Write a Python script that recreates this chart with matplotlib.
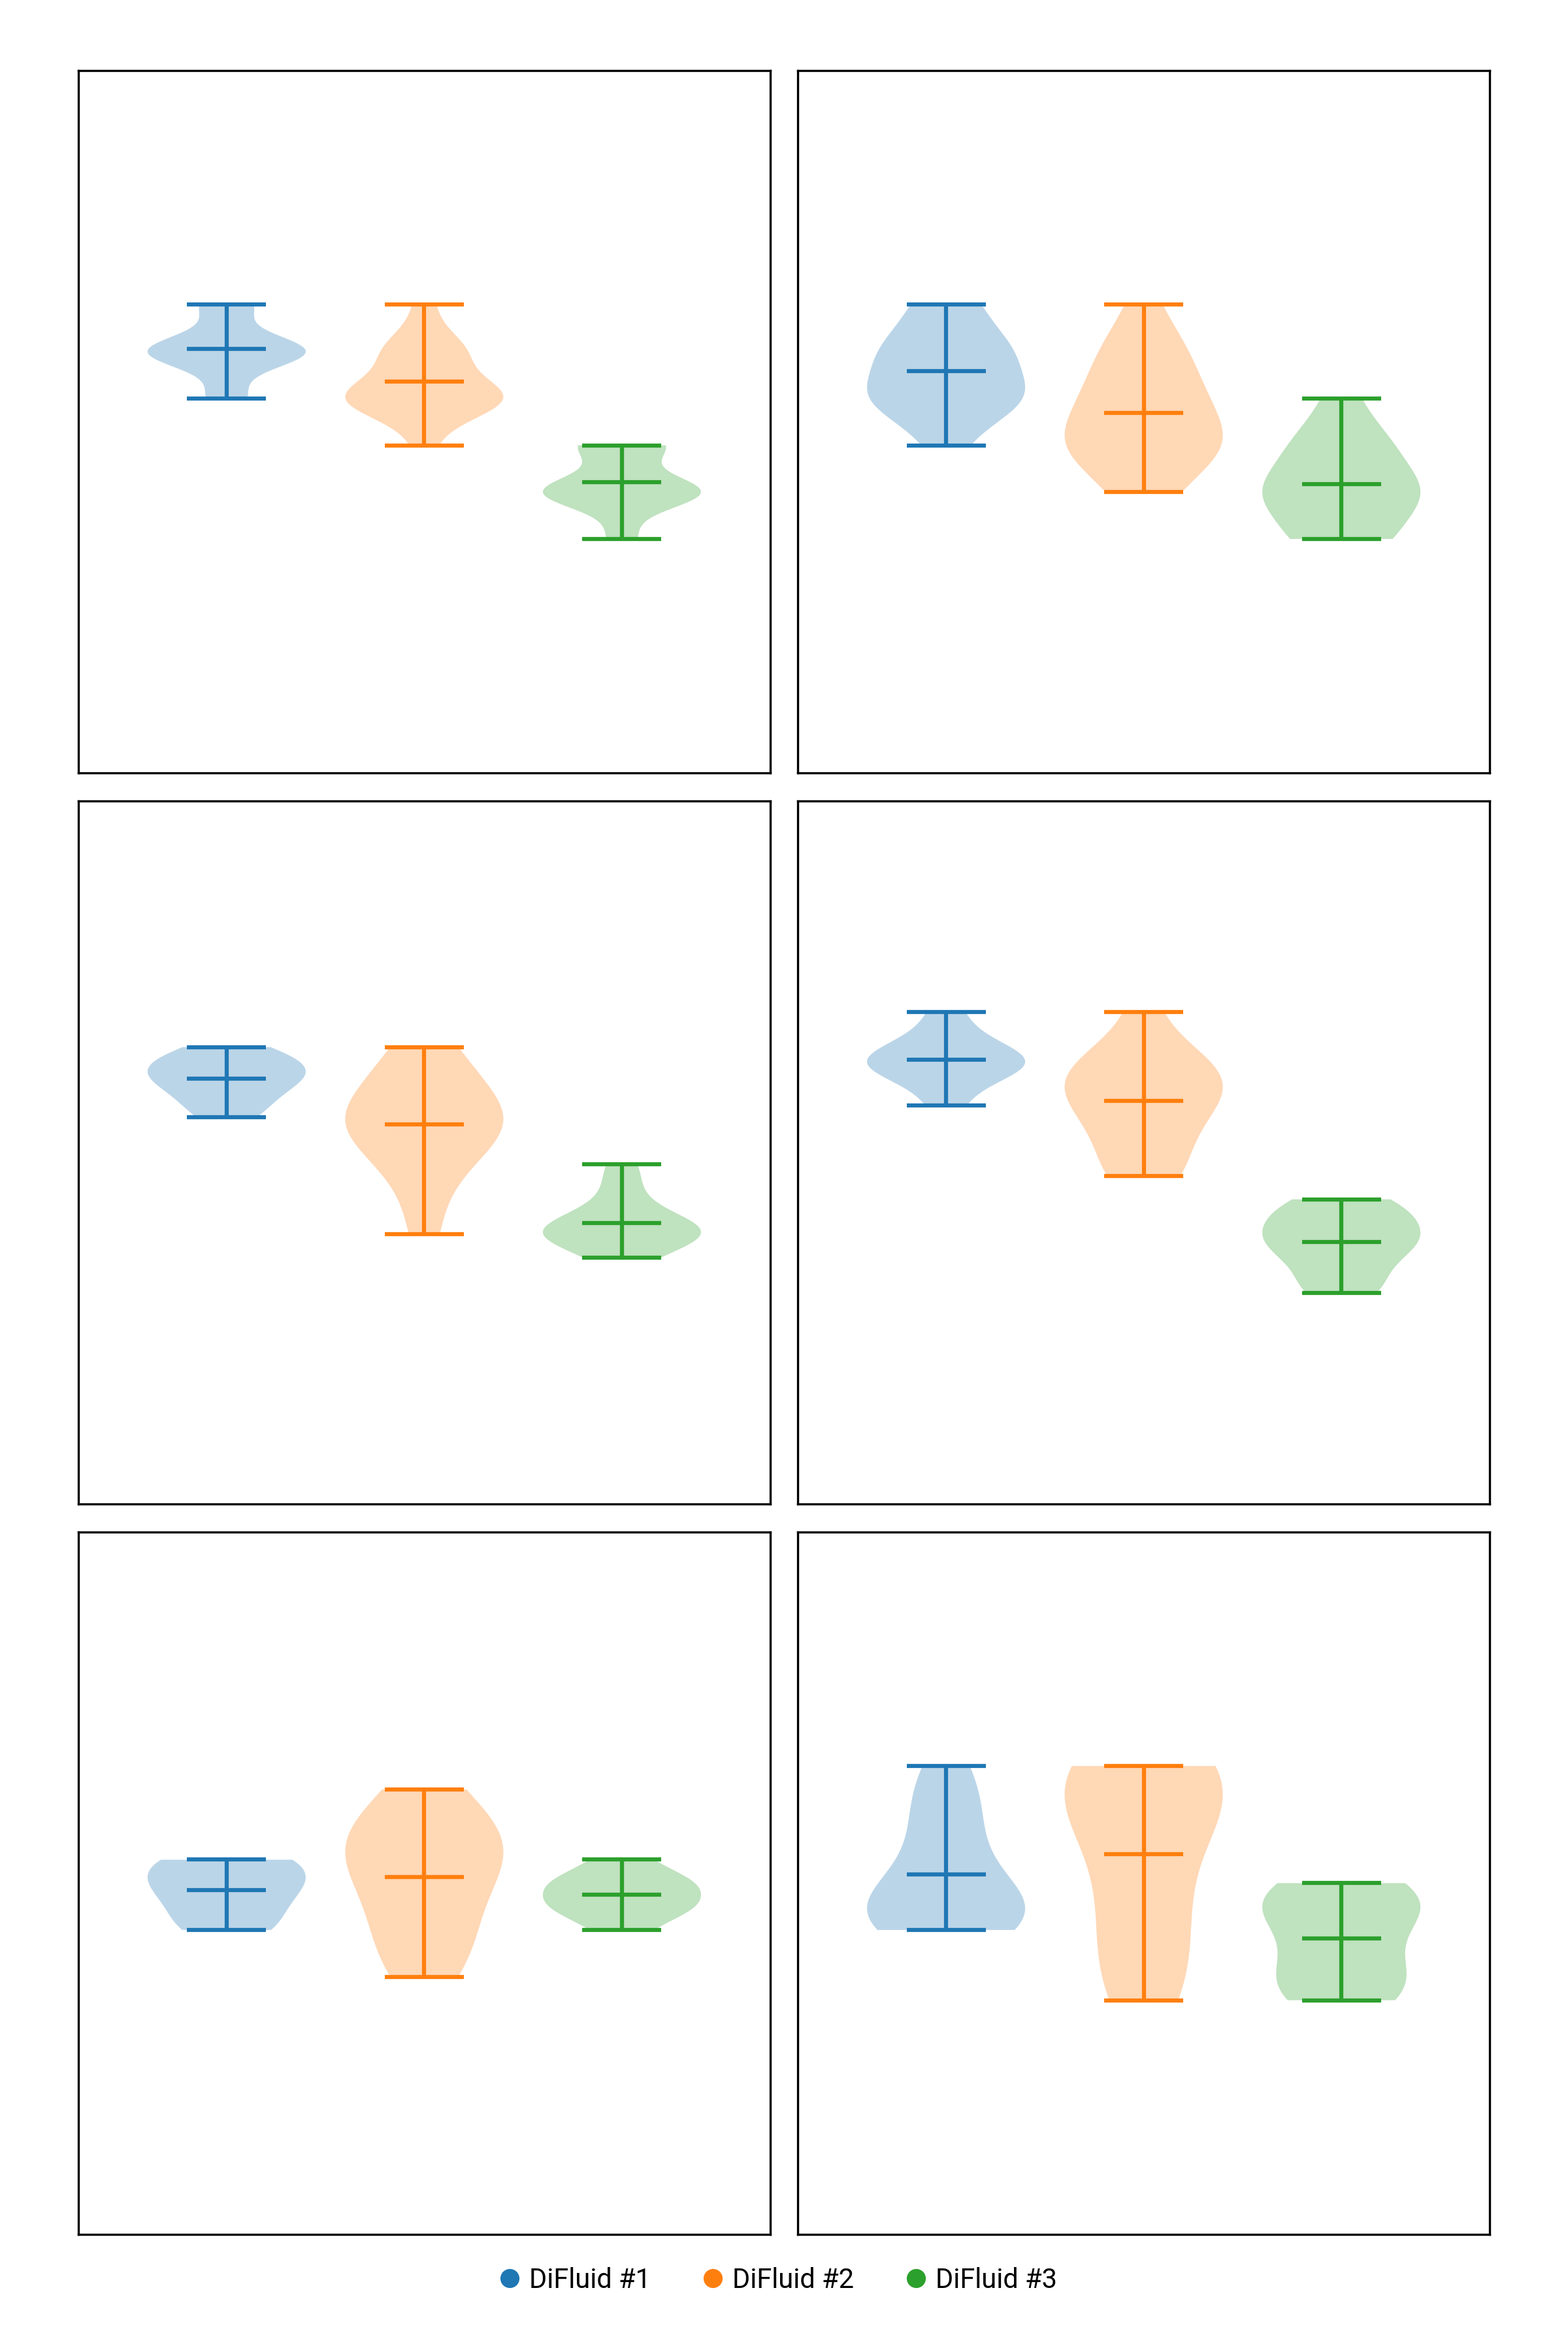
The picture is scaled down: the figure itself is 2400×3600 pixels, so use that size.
import matplotlib.pyplot as plt
from matplotlib.lines import Line2D

plt.rcParams['font.family'] = ['Roboto', 'DejaVu Sans']

labels = ['DiFluid #1', 'DiFluid #2', 'DiFluid #3']
colors = ['#1f77b4', '#ff7f0e', '#2ca02c']

# row 1
p1_d1 = [1.45, 1.45, 1.45, 1.45, 1.44, 1.44, 1.44, 1.44, 1.44, 1.44, 1.44, 1.44,
         1.44, 1.44, 1.44, 1.44, 1.43, 1.43, 1.43]
p1_d2 = [1.45, 1.44, 1.44, 1.44, 1.44, 1.43, 1.43, 1.43, 1.43, 1.43, 1.43, 1.43,
         1.43, 1.42]
p1_d3 = [1.42, 1.42, 1.42, 1.42, 1.42, 1.42, 1.41, 1.41, 1.41, 1.41, 1.41, 1.41,
         1.41, 1.41, 1.41, 1.41, 1.41, 1.40, 1.40]
p2_d1 = [1.45, 1.45, 1.44, 1.44, 1.44, 1.44, 1.43, 1.43, 1.43, 1.43, 1.43, 1.42]
p2_d2 = [1.45, 1.44, 1.44, 1.44, 1.43, 1.43, 1.43, 1.43, 1.42, 1.42, 1.42, 1.42,
         1.42, 1.42, 1.41, 1.41]
p2_d3 = [1.43, 1.42, 1.42, 1.42, 1.41, 1.41, 1.41, 1.41, 1.41, 1.40, 1.40, 1.40]

# row 2
p3_d1 = [1.97, 1.96, 1.96, 1.95, 1.95, 1.94, 1.94, 1.93, 1.92, 1.91]
p3_d2 = [1.97, 1.96, 1.94, 1.93, 1.92, 1.91, 1.91, 1.90, 1.89, 1.89, 1.87, 1.85,
         1.81]
p3_d3 = [1.87, 1.85, 1.83, 1.82, 1.82, 1.81, 1.81, 1.81, 1.81, 1.80, 1.79]
p4_d1 = [2.00, 1.98, 1.97, 1.96, 1.96, 1.96, 1.95, 1.95, 1.94, 1.92]
p4_d2 = [2.00, 1.96, 1.96, 1.95, 1.94, 1.94, 1.93, 1.92, 1.91, 1.90, 1.88, 1.86,
         1.86]
p4_d3 = [1.84, 1.84, 1.83, 1.83, 1.82, 1.82, 1.81, 1.81, 1.80, 1.80, 1.80, 1.79,
         1.78, 1.77, 1.76, 1.76]

# row 3
p5_d1 = [20.1, 20.1, 20.1, 20.0, 20.0, 20.0, 19.9, 19.9, 19.8, 19.8]
p5_d2 = [20.4, 20.3, 20.2, 20.2, 20.1, 20.1, 20.0, 19.9, 19.8, 19.7, 19.6]
p5_d3 = [20.1, 20.0, 20.0, 20.0, 19.9, 19.9, 19.9, 19.8]
p6_d1 = [20.5, 20.4, 20.3, 20.2, 20.1, 20.0, 19.9, 19.9, 19.9, 19.9, 19.8, 19.8,
         19.8]
p6_d2 = [20.5, 20.5, 20.5, 20.4, 20.4, 20.3, 20.2, 20.0, 19.9, 19.7, 19.6, 19.5]
p6_d3 = [20.0, 20.0, 19.9, 19.9, 19.9, 19.8, 19.7, 19.6, 19.6, 19.5, 19.5]

panels = [[p1_d1, p1_d2, p1_d3], [p2_d1, p2_d2, p2_d3],
          [p3_d1, p3_d2, p3_d3], [p4_d1, p4_d2, p4_d3],
          [p5_d1, p5_d2, p5_d3], [p6_d1, p6_d2, p6_d3]]
row_ylims = [(1.35, 1.50), (1.58, 2.18), (18.5, 21.5)]

fig, axes = plt.subplots(3, 2, figsize=(8, 12))
plt.subplots_adjust(left=0.05, right=0.95, top=0.97, bottom=0.05,
                    wspace=0.04, hspace=0.04)

for n, ax in enumerate(axes.flat):
    for i, vals in enumerate(panels[n]):
        parts = ax.violinplot(vals, positions=[i + 1], widths=0.8, showmeans=True)
        for body in parts['bodies']:
            body.set_facecolor(colors[i])
            body.set_edgecolor('none')
            body.set_alpha(0.3)
        for key in ['cbars', 'cmins', 'cmaxes', 'cmeans']:
            parts[key].set_color(colors[i])
            parts[key].set_linewidth(1.5)
    ax.set_xlim(0.25, 3.75)
    ax.set_ylim(row_ylims[n // 2])
    ax.set_xticks([])
    ax.set_yticks([])

handles = [Line2D([], [], marker='o', linestyle='', color=c, markersize=6)
           for c in colors]
fig.legend(handles, labels, loc='center', bbox_to_anchor=(0.497, 0.0305), ncol=3,
           frameon=False, fontsize=10, handlelength=0.6, handletextpad=0.4,
           columnspacing=2.0)

plt.savefig('out.png', dpi=300)
